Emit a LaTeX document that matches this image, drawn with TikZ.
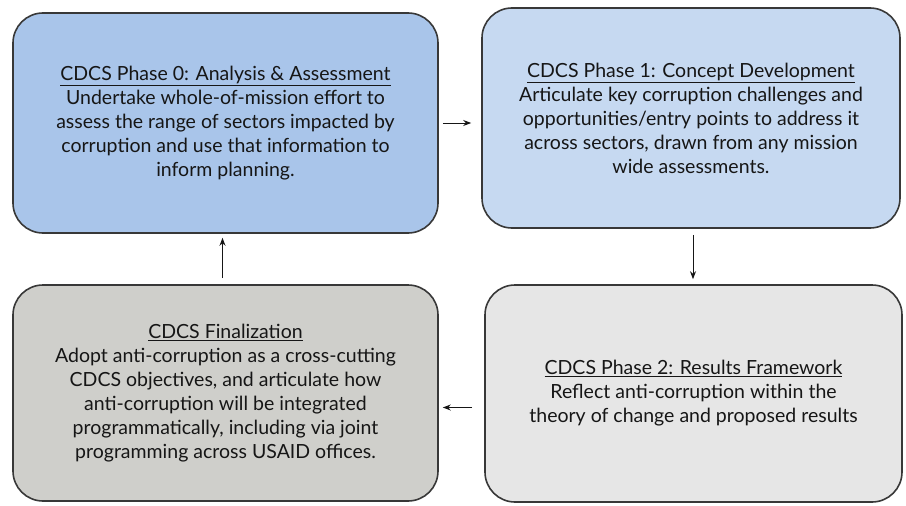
\documentclass[tikz,border=0pt]{standalone}
\usepackage{fontspec}
\setmainfont{Lato}
\usepackage{tikz}
\usetikzlibrary{arrows.meta}

\definecolor{phaseA}{HTML}{A9C5EA}
\definecolor{phaseB}{HTML}{C6D9F1}
\definecolor{phaseC}{HTML}{E6E6E6}
\definecolor{phaseD}{HTML}{CFCFCB}
\definecolor{edgegray}{HTML}{383838}
\definecolor{inkgray}{HTML}{161616}

\tikzset{
  phasebox/.style={draw=edgegray, line width=1.6pt, rounded corners=30pt,
    align=center, text=inkgray, font=\fontsize{19.5}{24}\selectfont},
  flow/.style={->, line width=1pt, draw=inkgray}
}

\begin{document}
\begin{tikzpicture}[x=1pt, y=1pt, >={Stealth[length=8pt, width=6pt]}]
    \useasboundingbox (0,0) rectangle (906,-506);
    % Phase boxes
    \node[phasebox, fill=phaseA, minimum width=425pt, minimum height=220pt] (p0) at (225.5,-123)
      {\underline{CDCS Phase 0: Analysis \& Assessment}\\
       Undertake whole-of-mission effort to\\
       assess the range of sectors impacted by\\
       corruption and use that information to\\
       inform planning.};
    \node[phasebox, fill=phaseB, minimum width=418pt, minimum height=220pt] (p1) at (691,-118)
      {\underline{CDCS Phase 1: Concept Development}\\
       Articulate key corruption challenges and\\
       opportunities/entry points to address it\\
       across sectors, drawn from any mission\\
       wide assessments.};
    \node[phasebox, fill=phaseC, minimum width=417pt, minimum height=217pt] (p2) at (693.5,-393.5)
      {\underline{CDCS Phase 2: Results Framework}\\
       Reflect anti-corruption within the\\
       theory of change and proposed results};
    \node[phasebox, fill=phaseD, minimum width=425pt, minimum height=216pt] (p3) at (225.5,-393)
      {\underline{CDCS Finalization}\\
       Adopt anti-corruption as a cross-cutting\\
       CDCS objectives, and articulate how\\
       anti-corruption will be integrated\\
       programmatically, including via joint\\
       programming across USAID offices.};
    % Arrows between phases
    \draw[flow, shorten <=4pt, shorten >=10pt] (p0.east) -- (p0.east -| p1.west);
    \draw[flow, shorten <=6pt, shorten >=5pt] ([xshift=2pt]p1.south) -- ([xshift=2pt]p1.south |- p2.north);
    \draw[flow, shorten <=12pt, shorten >=4pt] ([yshift=-14pt]p2.west) -- ([yshift=-14pt]p2.west -| p3.east);
    \draw[flow, shorten <=6pt, shorten >=4pt] ([xshift=-3pt]p3.north) -- ([xshift=-3pt]p3.north |- p0.south);
\end{tikzpicture}
\end{document}
